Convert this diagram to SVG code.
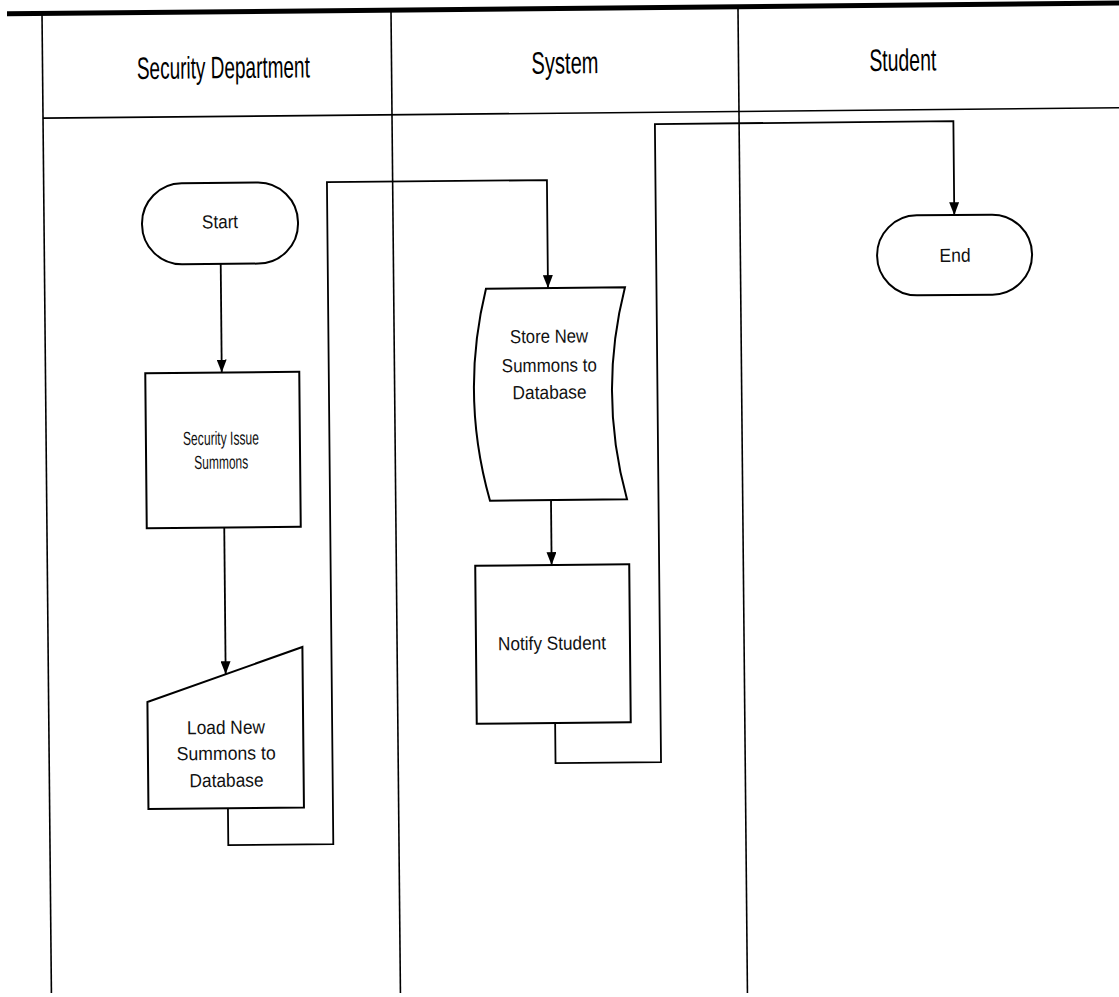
<svg xmlns="http://www.w3.org/2000/svg" width="1119" height="997" viewBox="0 0 1119 997">
  <style>
    .pool { stroke: #000; fill: none; stroke-width: 1.6; }
    .rule { stroke: #000; fill: none; stroke-width: 5; }
    .shape { stroke: #000; fill: #fff; stroke-width: 2; }
    .link { stroke: #000; fill: none; stroke-width: 1.8; }
    .lane-title { font-family: "Liberation Sans", Arial, sans-serif; font-size: 31px; fill: #000; text-anchor: middle; }
    .label { font-family: "Liberation Sans", Arial, sans-serif; font-size: 19px; fill: #111; text-anchor: middle; }
  </style>
  <defs>
    <marker id="arrow" markerWidth="13" markerHeight="10" refX="13" refY="5" orient="auto" markerUnits="userSpaceOnUse">
      <path d="M0,0 L13,5 L0,10 Z" fill="#000"/>
    </marker>
  </defs>
  <rect width="1119" height="997" fill="#fff"/>

  <!-- whole swimlane sheet, slightly tilted as printed -->
  <g transform="rotate(-0.55 560 500)">
    <g id="lanes">
      <path class="rule" d="M11.7,8.5 H1140"/>
      <path class="pool" d="M46.7,113.2 H1140"/>
      <path class="pool" d="M46.7,8.5 V988"/>
      <path class="pool" d="M395.7,8.5 V991.5"/>
      <path class="pool" d="M742.7,8.5 V994.8"/>
      <text class="lane-title" x="227.5" y="75" textLength="173" lengthAdjust="spacingAndGlyphs">Security Department</text>
      <text class="lane-title" x="569.2" y="73.5" textLength="67" lengthAdjust="spacingAndGlyphs">System</text>
      <text class="lane-title" x="907" y="74" textLength="67" lengthAdjust="spacingAndGlyphs">Student</text>
    </g>

    <g id="connectors">
      <path class="link" d="M223,260.7 V369.3" marker-end="url(#arrow)"/>
      <path class="link" d="M224,524.5 V671" marker-end="url(#arrow)"/>
      <path class="link" d="M225,805 V842 H330 V180 H550 V288" marker-end="url(#arrow)"/>
      <path class="link" d="M551,500 V565" marker-end="url(#arrow)"/>
      <path class="link" d="M553,723 V763 H658.5 V125 H957 V219" marker-end="url(#arrow)"/>
    </g>

    <g id="start">
      <rect class="shape" x="144.7" y="179.7" width="156" height="81" rx="40" ry="40"/>
      <text class="label" x="222.7" y="225" textLength="36" lengthAdjust="spacingAndGlyphs">Start</text>
    </g>

    <g id="issue-summons">
      <rect class="shape" x="146.5" y="369.3" width="154" height="155"/>
      <text class="label" x="221.6" y="441.5" textLength="76" lengthAdjust="spacingAndGlyphs">Security Issue</text>
      <text class="label" x="221.6" y="465.5" textLength="54" lengthAdjust="spacingAndGlyphs">Summons</text>
    </g>

    <g id="load-summons">
      <path class="shape" d="M145.5,698 L301,644.5 L301,805 L145.5,805 Z"/>
      <text class="label" x="223.8" y="730.6" textLength="78" lengthAdjust="spacingAndGlyphs">Load New</text>
      <text class="label" x="223.8" y="756.6" textLength="99" lengthAdjust="spacingAndGlyphs">Summons to</text>
      <text class="label" x="223.8" y="783.6" textLength="74" lengthAdjust="spacingAndGlyphs">Database</text>
    </g>

    <g id="store-summons">
      <path class="shape" d="M488,288 L627,288 Q599,394 627,500 L490,500 Q461,394 488,288 Z"/>
      <text class="label" x="550.6" y="342.7" textLength="78" lengthAdjust="spacingAndGlyphs">Store New</text>
      <text class="label" x="550.6" y="371.7" textLength="95" lengthAdjust="spacingAndGlyphs">Summons to</text>
      <text class="label" x="550.6" y="398.7" textLength="74" lengthAdjust="spacingAndGlyphs">Database</text>
    </g>

    <g id="notify-student">
      <rect class="shape" x="474.6" y="565" width="154" height="158"/>
      <text class="label" x="550.6" y="649.7" textLength="108" lengthAdjust="spacingAndGlyphs">Notify Student</text>
    </g>

    <g id="end">
      <rect class="shape" x="879.4" y="218.8" width="155" height="80" rx="40" ry="40"/>
      <text class="label" x="957.4" y="265.6" textLength="31" lengthAdjust="spacingAndGlyphs">End</text>
    </g>
  </g>
</svg>
